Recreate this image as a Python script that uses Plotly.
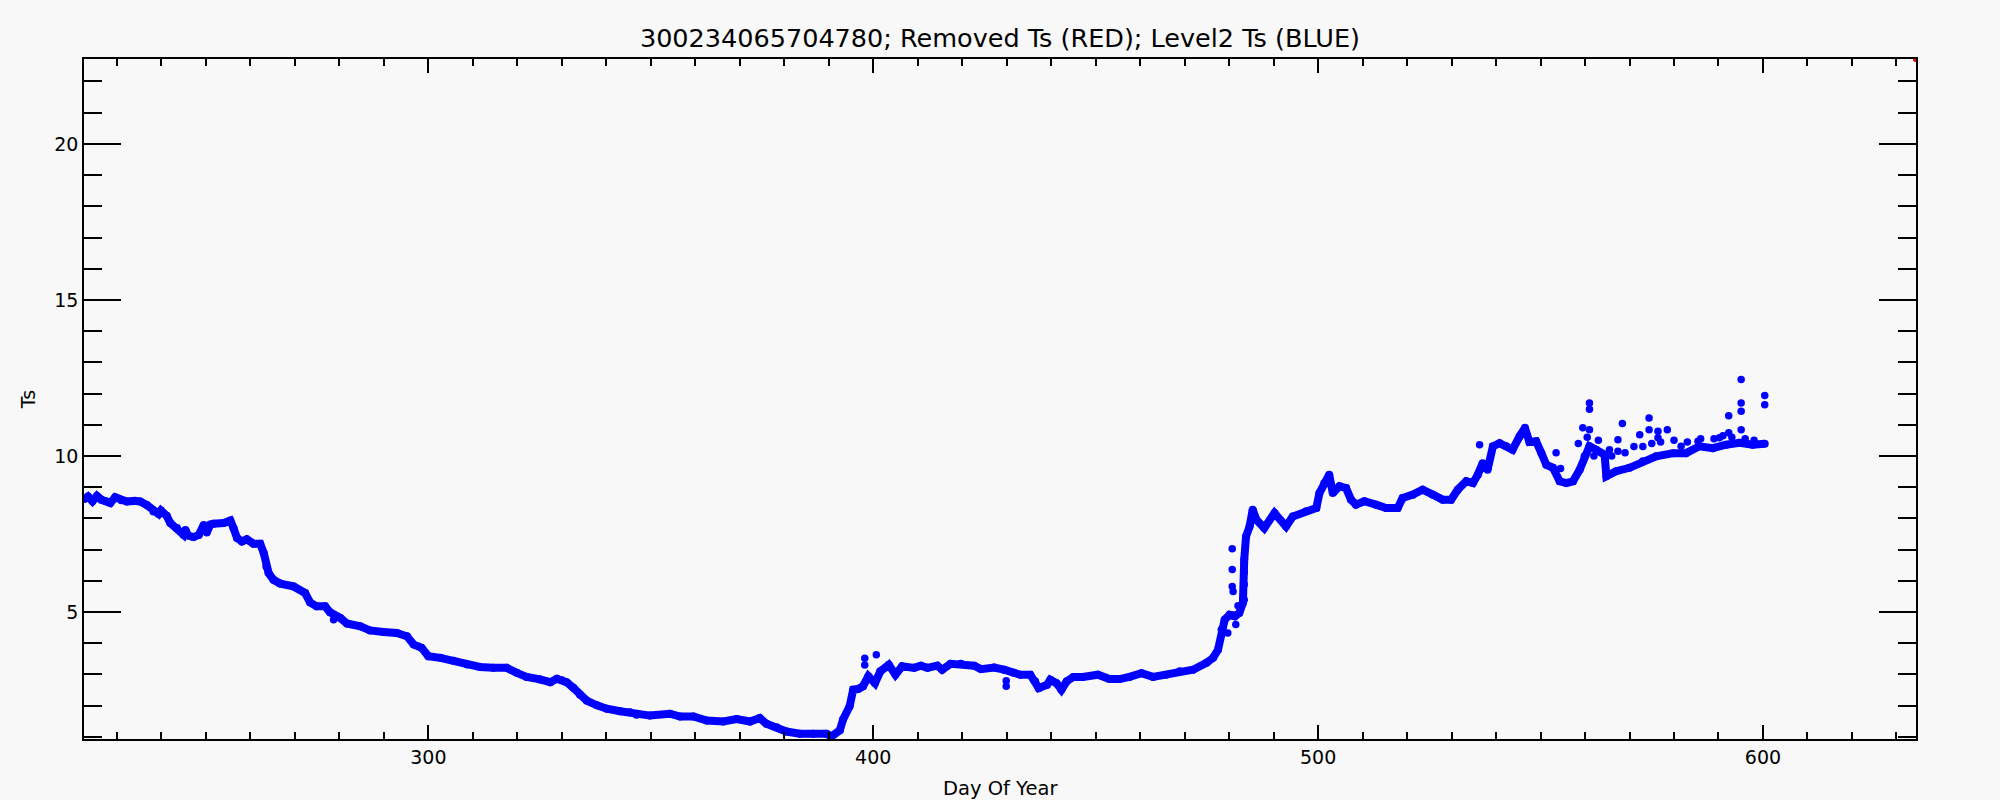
import plotly.graph_objects as go

# Level2 Ts (blue) main trace: day of year, Ts
level2_day = [
    222.7, 223.5, 224.5, 225.5, 226.5, 227.5, 228.5, 229.6, 231.0, 232.2, 234.0, 235.2,
    236.7, 238.2, 239.4, 239.9, 241.2, 242.0, 243.5, 245.0, 245.4, 246.0, 247.2, 248.4,
    249.5, 250.2, 251.0, 251.7, 254.0, 255.5, 256.2, 257.0, 258.1, 259.2, 260.7, 262.2,
    263.0, 263.6, 264.1, 265.2, 266.7, 269.7, 272.3, 273.4, 274.9, 276.8, 277.9, 280.2,
    281.7, 284.7, 286.9, 289.9, 292.9, 295.2, 296.7, 298.5, 300.0, 302.7, 305.7, 308.7,
    311.6, 314.6, 317.6, 319.9, 322.1, 325.1, 327.4, 328.9, 330.0, 331.1, 332.6, 334.1,
    335.6, 337.9, 340.1, 343.1, 345.3, 346.8, 349.8, 354.3, 356.6, 359.6, 362.6, 366.3,
    369.3, 372.3, 374.5, 376.0, 378.3, 380.5, 383.5, 386.5, 389.5, 390.6, 392.5, 393.2,
    394.7, 395.5, 396.6, 397.7, 398.9, 400.4, 401.6, 403.5, 405.0, 406.5, 409.2, 410.7,
    412.2, 414.4, 415.5, 417.4, 419.7, 422.7, 424.2, 427.2, 429.4, 431.6, 433.1, 435.3,
    436.4, 437.2, 439.1, 439.8, 441.2, 442.3, 443.5, 445.0, 447.1, 450.5, 453.1, 455.4,
    457.6, 460.3, 462.9, 465.9, 468.9, 471.9, 474.9, 476.4, 477.5, 478.3, 479.0, 480.1,
    481.3, 482.3, 483.1, 483.4, 483.8, 484.6, 485.3, 486.1, 487.9, 490.2, 492.8, 494.3,
    497.3, 499.6, 500.3, 501.4, 502.5, 503.3, 504.8, 506.3, 507.4, 508.5, 510.4, 513.0,
    515.3, 517.9, 519.0, 521.3, 523.5, 525.8, 528.0, 529.9, 531.4, 533.3, 534.8, 535.9,
    537.0, 538.1, 539.3, 540.8, 542.3, 543.7, 545.3, 546.5, 547.5, 549.0, 550.2, 551.3,
    552.8, 554.3, 555.8, 557.3, 558.8, 559.9, 561.0, 562.5, 564.4, 564.8, 567.0, 570.0,
    573.0, 576.0, 579.8, 582.7, 585.7, 588.7, 591.7, 594.7, 597.7, 600.4,
]
level2_ts = [
    8.62, 8.70, 8.55, 8.72, 8.60, 8.55, 8.49, 8.68, 8.58, 8.54, 8.56, 8.54,
    8.43, 8.22, 8.14, 8.25, 8.08, 7.85, 7.69, 7.47, 7.63, 7.45, 7.40, 7.47,
    7.79, 7.55, 7.80, 7.83, 7.85, 7.93, 7.69, 7.37, 7.26, 7.33, 7.19, 7.19,
    6.89, 6.46, 6.25, 6.03, 5.91, 5.82, 5.61, 5.31, 5.18, 5.18, 4.99, 4.81,
    4.63, 4.54, 4.41, 4.36, 4.33, 4.22, 3.96, 3.85, 3.58, 3.53, 3.44, 3.32,
    3.24, 3.21, 3.21, 3.05, 2.92, 2.84, 2.75, 2.86, 2.81, 2.75, 2.57, 2.35,
    2.16, 2.01, 1.90, 1.82, 1.79, 1.71, 1.68, 1.74, 1.65, 1.65, 1.52, 1.49,
    1.57, 1.49, 1.60, 1.42, 1.31, 1.17, 1.10, 1.10, 1.10, 1.01, 1.21, 1.55,
    1.98, 2.51, 2.53, 2.62, 2.94, 2.72, 3.10, 3.31, 2.99, 3.26, 3.21, 3.28,
    3.21, 3.28, 3.15, 3.34, 3.34, 3.28, 3.17, 3.22, 3.15, 3.05, 2.99, 2.99,
    2.78, 2.56, 2.67, 2.83, 2.72, 2.51, 2.78, 2.92, 2.92, 2.99, 2.85, 2.85,
    2.92, 3.04, 2.92, 2.99, 3.10, 3.15, 3.37, 3.53, 3.79, 4.43, 4.75, 4.91,
    4.86, 4.97, 5.29, 6.68, 7.42, 7.74, 8.28, 7.96, 7.69, 8.17, 7.74, 8.06,
    8.23, 8.33, 8.81, 9.13, 9.40, 8.81, 9.03, 8.97, 8.60, 8.44, 8.55, 8.44,
    8.33, 8.33, 8.65, 8.76, 8.92, 8.76, 8.60, 8.60, 8.92, 9.19, 9.13, 9.40,
    9.77, 9.56, 10.31, 10.41, 10.31, 10.20, 10.63, 10.90, 10.45, 10.47, 10.09, 9.72,
    9.62, 9.19, 9.13, 9.19, 9.56, 9.99, 10.31, 10.20, 10.04, 9.35, 9.51, 9.62,
    9.83, 9.99, 10.09, 10.09, 10.31, 10.25, 10.36, 10.42, 10.36, 10.39,
]

# Scattered Level2 points away from the main band
scatter_day = [
    278.7, 398.1, 398.1, 400.7, 429.9, 429.9,
    479.7, 480.7, 480.7, 480.7, 480.9, 481.0, 481.5, 482.0, 483.4, 483.4, 483.4, 483.4,
    536.3, 553.5, 554.5, 558.5, 559.5, 560.5, 561.0, 561.0, 561.0, 562.0, 563.0,
    567.4, 567.4, 568.4, 572.3, 574.4, 574.4, 576.4, 576.4, 578.5, 581.6, 585.4,
    590.2, 592.3, 592.3, 595.1, 595.1, 595.1, 595.1, 600.4, 600.4,
    565.5, 566.0, 569.0, 571.0, 573.0, 575.0, 577.0, 580.0, 583.0, 586.0, 589.0,
    591.0, 593.0, 596.0, 598.0,
]
scatter_ts = [
    4.75, 3.52, 3.30, 3.63, 2.62, 2.80,
    4.33, 7.03, 6.36, 5.82, 5.66, 4.90, 4.60, 5.20, 6.57, 6.27, 5.88, 5.39,
    10.36, 10.10, 9.60, 10.40, 10.90, 10.60, 11.70, 11.50, 10.84, 10.00, 10.50,
    10.52, 10.15, 11.04, 10.68, 11.22, 10.84, 10.79, 10.58, 10.84, 10.31, 10.47,
    10.58, 11.29, 10.74, 12.45, 11.70, 11.43, 10.84, 11.94, 11.64,
    10.20, 10.00, 10.10, 10.30, 10.30, 10.40, 10.45, 10.50, 10.45, 10.55, 10.55,
    10.65, 10.60, 10.55, 10.50,
]

# Removed Ts (red)
removed_day = [634.3]
removed_ts = [22.7]

x_range = [222.6, 634.4]
y_range = [0.93, 22.72]

FONT = "DejaVu Sans"
BLUE = "#0000ff"
BG = "#f8f8f8"

fig = go.Figure()
fig.add_trace(go.Scatter(
    x=level2_day, y=level2_ts, mode="lines+markers",
    line=dict(color=BLUE, width=8),
    marker=dict(color=BLUE, size=8),
    cliponaxis=True, showlegend=False,
))
fig.add_trace(go.Scatter(
    x=scatter_day, y=scatter_ts, mode="markers",
    marker=dict(color=BLUE, size=7.5),
    cliponaxis=True, showlegend=False,
))
fig.add_trace(go.Scatter(
    x=removed_day, y=removed_ts, mode="markers",
    marker=dict(color="#ff0000", size=5),
    cliponaxis=True, showlegend=False,
))

axis_common = dict(
    showgrid=False, zeroline=False, showline=True, linecolor="black", linewidth=1.5,
    mirror="ticks", ticks="inside", tickcolor="black", tickwidth=1.5,
    tickfont=dict(family=FONT, size=19, color="black"),
)

fig.update_layout(
    width=2000, height=800,
    margin=dict(l=84, r=84, t=59, b=61),
    paper_bgcolor=BG, plot_bgcolor=BG,
    title=dict(
        text="300234065704780; Removed Ts (RED); Level2 Ts (BLUE)",
        x=0.5, xanchor="center", y=1 - 38.5 / 800, yanchor="middle", yref="container",
        font=dict(family=FONT, size=25.5, color="black"),
    ),
    xaxis=dict(
        range=x_range, tickmode="array", tickvals=[300, 400, 500, 600],
        ticklen=14, minor=dict(ticks="inside", ticklen=7, dtick=10, tick0=0,
                               tickcolor="black", tickwidth=1.5),
        **axis_common,
    ),
    yaxis=dict(
        range=y_range, tickmode="array", tickvals=[5, 10, 15, 20],
        ticklen=37, minor=dict(ticks="inside", ticklen=18, dtick=1, tick0=0,
                               tickcolor="black", tickwidth=1.5),
        title=dict(text="Ts", font=dict(family=FONT, size=19, color="black"), standoff=14),
        **axis_common,
    ),
    annotations=[dict(
        text="Day Of Year", xref="paper", yref="paper", x=0.5, y=-(789 - 739.3) / 680,
        xanchor="center", yanchor="middle", showarrow=False,
        font=dict(family=FONT, size=19.5, color="black"),
    )],
)

fig.write_html(
    "out.html",
    config={"displayModeBar": False},
    post_script="document.body.style.margin='0px';document.body.style.backgroundColor='" + BG + "';",
)
